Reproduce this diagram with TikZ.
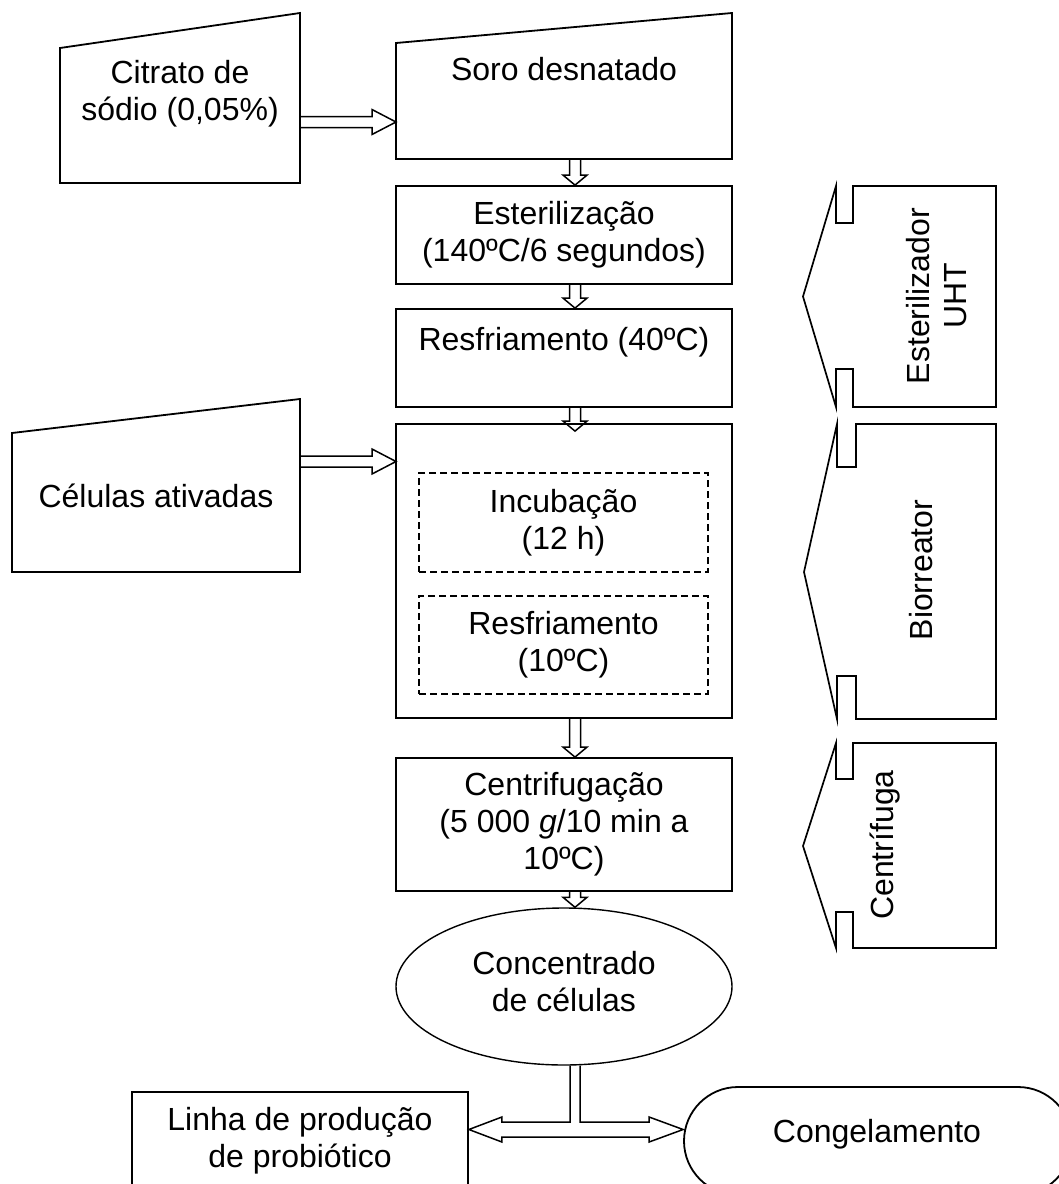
\documentclass[tikz,border=0pt]{standalone}
\usepackage{fontspec}
\setmainfont{Liberation Sans}
\usetikzlibrary{calc,shapes.geometric}

% hollow flow arrow pointing down: #1 start, #2 tip
\newcommand\downflow[2]{%
  \draw[flow] ($(#1)+(-5.5,0)$) -- ($(#2)+(-5.5,-10)$) -- ($(#2)+(-12,-10)$)
    -- (#2) -- ($(#2)+(12,-10)$) -- ($(#2)+(5.5,-10)$) -- ($(#1)+(5.5,0)$);}
% hollow flow arrow pointing right: #1 start, #2 tip
\newcommand\rightflow[2]{%
  \draw[flow] ($(#1)+(0,-5.5)$) -- ($(#2)+(-24,-5.5)$) -- ($(#2)+(-24,-12.5)$)
    -- (#2) -- ($(#2)+(-24,12.5)$) -- ($(#2)+(-24,5.5)$) -- ($(#1)+(0,5.5)$);}

\begin{document}
\begin{tikzpicture}[x=1pt,y=-1pt,
  font=\fontsize{32}{37}\selectfont,
  box/.style={draw,line width=1.8pt,inner sep=0pt,align=center},
  subbox/.style={draw,line width=1.4pt,dash pattern=on 7pt off 4pt,inner sep=0pt,align=center},
  lbl/.style={inner sep=0pt,align=center},
  flow/.style={draw,line width=1.5pt,line join=miter},
  equip/.style={draw,line width=1.7pt,line join=miter}]

\useasboundingbox (0,0) rectangle (1059,1184);
\clip (0,0) rectangle (1059,1184);

% inputs (manual input shapes)
\draw[line width=1.8pt] (60,48) -- (300,13) -- (300,183) -- (60,183) -- cycle;
\node[lbl] (citrato) at (180,93.5) {Citrato de\\sódio (0,05\%)};
\draw[line width=1.8pt] (12,433) -- (300,399) -- (300,572) -- (12,572) -- cycle;
\node[lbl,anchor=base] (celulas) at (156,507) {Células ativadas};

% raw material
\draw[line width=1.8pt] (396,43) -- (732,13) -- (732,159) -- (396,159) -- cycle;
\coordinate (soroSW) at (396,159);
\node[lbl,anchor=base] (soro) at (564,80) {Soro desnatado};

% process steps
\node[box,minimum width=336pt,minimum height=98pt] (ester) at (564,235)
  {Esterilização\\(140ºC/6 segundos)};
\node[box,minimum width=336pt,minimum height=98pt] (resf) at (564,358) {};
\node[lbl,anchor=base] (resftxt) at (564,350) {Resfriamento (40ºC)};
\node[box,minimum width=336pt,minimum height=294pt] (bio) at (564,571) {};
\node[subbox,minimum width=289pt,minimum height=99pt] (incub) at (563.5,522.5)
  {Incubação\\(12 h)};
\node[subbox,minimum width=289pt,minimum height=98pt] (resf2) at (563.5,645)
  {Resfriamento\\(10ºC)};
\node[box,minimum width=336pt,minimum height=133pt] (centr) at (564,824.5)
  {Centrifugação\\(5 000 \textit{g}/10 min a\\10ºC)};
\node[ellipse,draw,line width=1.4pt,inner sep=0pt,minimum width=336pt,minimum height=157pt]
  (conc) at (564,986.5) {};
\node[lbl] (conctxt) at (564,982) {Concentrado\\de células};

% outputs
\node[box,minimum width=336pt,minimum height=108pt] (linha) at (300,1146) {};
\node[lbl] (linhatxt) at (300,1141) {Linha de produção\\de probiótico};
\node[box,rounded corners=54pt,minimum width=388pt,minimum height=108pt] (cong) at (878,1141) {};
\node[lbl,anchor=base] (congtxt) at (877,1142) {Congelamento};

% equipment
\draw[equip] (836,186) -- (803,296.5) -- (836,407) -- (836,369) -- (853,369) -- (853,407)
  -- (996,407) -- (996,186) -- (853,186) -- (853,223) -- (836,223) -- cycle;
\node[lbl,rotate=90] (uht) at (937,296) {Esterilizador\\UHT};
\draw[equip] (837,424) -- (804,572) -- (837,719) -- (837,676) -- (856,676) -- (856,719)
  -- (996,719) -- (996,424) -- (856,424) -- (856,467) -- (837,467) -- cycle;
\node[lbl,rotate=90,anchor=base] (biorr) at (932,570) {Biorreator};
\draw[equip] (836,743) -- (803,846) -- (836,948) -- (836,912) -- (853,912) -- (853,948)
  -- (996,948) -- (996,743) -- (853,743) -- (853,779) -- (836,779) -- cycle;
\node[lbl,rotate=90,anchor=base] (centrif) at (893,845) {Centrífuga};

% flow connectors
\coordinate (ax) at (575,0);
\rightflow{300,122}{396,122}
\rightflow{300,461.5}{396,461.5}
\downflow{ax |- soroSW}{ax |- ester.north}
\downflow{ax |- ester.south}{ax |- resf.north}
\downflow{ax |- resf.south}{$(ax |- bio.north)+(0,8)$}
\downflow{ax |- bio.south}{ax |- centr.north}
\downflow{ax |- centr.south}{ax |- conc.north}

% split of the cell concentrate
\coordinate (split) at (575,1129.5);
\coordinate (tipL) at (linha.east |- split);
\coordinate (tipR) at (cong.west |- split);
\draw[flow] ($(ax |- conc.south)+(-5,0)$) -- ($(split)+(-5,-7.5)$)
  -- ($(tipL)+(33,-7.5)$) -- ($(tipL)+(33,-12.5)$) -- (tipL) -- ($(tipL)+(33,12.5)$)
  -- ($(tipL)+(33,7.5)$) -- ($(tipR)+(-34,7.5)$) -- ($(tipR)+(-34,12.5)$) -- (tipR)
  -- ($(tipR)+(-34,-12.5)$) -- ($(tipR)+(-34,-7.5)$) -- ($(split)+(5,-7.5)$)
  -- ($(ax |- conc.south)+(5,0)$);
\end{tikzpicture}
\end{document}
